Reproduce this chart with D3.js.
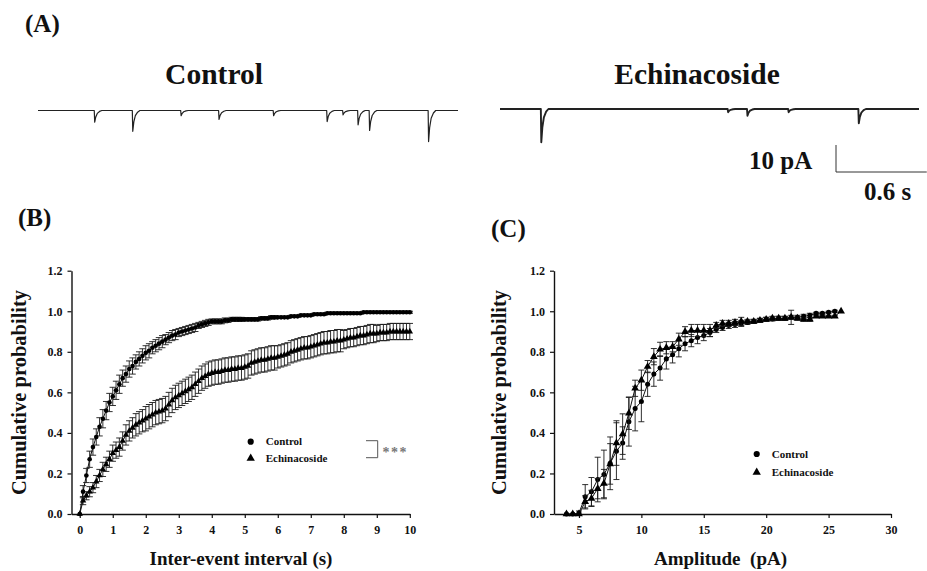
<!DOCTYPE html>
<html>
<head>
<meta charset="utf-8">
<script src="https://cdn.jsdelivr.net/npm/d3@7"></script>
<style>
  body { margin: 0; background: #fff; }
  svg { display: block; }
  text { font-family: "Liberation Serif", "Times New Roman", serif; font-weight: bold; fill: #111; }
</style>
</head>
<body>
<div id="fig"></div>
<script>
// ---------- data ----------
// (A) sample traces: event times (s) and amplitudes (pA)
var controlEventTimes = [0.371, 0.622, 0.941, 1.191, 1.551, 1.904, 2.009, 2.108, 2.184, 2.573];
var controlEventAmps  = [4.3, 7.7, 1.9, 3.3, 1.9, 4.1, 1.6, 5.3, 7.4, 11.5];
var echinaEventTimes  = [0.270, 1.505, 1.633, 1.905, 2.369];
var echinaEventAmps   = [12.3, 1.2, 2.5, 1.2, 5.3];

// (B) inter-event interval cumulative probability
var ieiTimes = [0,0.1,0.2,0.3,0.4,0.5,0.6,0.7,0.8,0.9,
  1,1.1,1.2,1.3,1.4,1.5,1.6,1.7,1.8,1.9,
  2,2.1,2.2,2.3,2.4,2.5,2.6,2.7,2.8,2.9,
  3,3.1,3.2,3.3,3.4,3.5,3.6,3.7,3.8,3.9,
  4,4.1,4.2,4.3,4.4,4.5,4.6,4.7,4.8,4.9,
  5,5.1,5.2,5.3,5.4,5.5,5.6,5.7,5.8,5.9,
  6,6.1,6.2,6.3,6.4,6.5,6.6,6.7,6.8,6.9,
  7,7.1,7.2,7.3,7.4,7.5,7.6,7.7,7.8,7.9,
  8,8.1,8.2,8.3,8.4,8.5,8.6,8.7,8.8,8.9,
  9,9.1,9.2,9.3,9.4,9.5,9.6,9.7,9.8,9.9,10];
var ieiControl = [0,0.11,0.19,0.27,0.33,0.38,0.43,0.47,0.51,0.55,
  0.58,0.61,0.64,0.67,0.69,0.715,0.73,0.75,0.765,0.78,
  0.795,0.805,0.82,0.83,0.84,0.85,0.86,0.87,0.88,0.885,
  0.895,0.9,0.905,0.91,0.915,0.92,0.93,0.935,0.94,0.945,
  0.95,0.95,0.95,0.95,0.955,0.955,0.96,0.96,0.96,0.96,
  0.96,0.96,0.96,0.96,0.96,0.965,0.965,0.965,0.97,0.97,
  0.97,0.97,0.97,0.97,0.975,0.975,0.975,0.98,0.98,0.98,
  0.98,0.985,0.985,0.985,0.985,0.99,0.99,0.99,0.99,0.99,
  0.99,0.99,0.99,0.99,0.99,0.99,0.995,0.995,0.995,0.995,
  0.995,0.995,0.995,0.995,0.995,0.995,0.995,0.995,0.995,0.995,0.995];
var ieiControlErr = [0,0.03,0.035,0.04,0.04,0.04,0.045,0.045,0.045,0.045,
  0.045,0.045,0.045,0.04,0.04,0.04,0.04,0.035,0.035,0.035,
  0.035,0.035,0.03,0.03,0.03,0.03,0.025,0.025,0.025,0.025,
  0.02,0.02,0.02,0.02,0.02,0.02,0.015,0.015,0.015,0.015,
  0.012,0.012,0.012,0.012,0.012,0.01,0.01,0.01,0.01,0.01,
  0.008,0.008,0.008,0.008,0.008,0.008,0.008,0.008,0.008,0.008,
  0.005,0.005,0.005,0.005,0.005,0.005,0.005,0.005,0.005,0.005,
  0.005,0.005,0.005,0.005,0.005,0.005,0.005,0.005,0.005,0.005,
  0.005,0.005,0.005,0.005,0.005,0.005,0.005,0.005,0.005,0.005,
  0.005,0.005,0.005,0.005,0.005,0.005,0.005,0.005,0.005,0.005,0.005];
var ieiEchina = [0,0.066,0.09,0.11,0.13,0.16,0.19,0.22,0.245,0.27,
  0.3,0.315,0.33,0.36,0.39,0.41,0.425,0.44,0.45,0.46,
  0.47,0.48,0.49,0.5,0.505,0.51,0.52,0.54,0.56,0.575,
  0.585,0.595,0.605,0.615,0.625,0.64,0.655,0.67,0.68,0.69,
  0.695,0.7,0.7,0.705,0.71,0.71,0.715,0.715,0.72,0.72,
  0.725,0.73,0.745,0.75,0.755,0.76,0.76,0.765,0.77,0.77,
  0.775,0.78,0.785,0.79,0.8,0.805,0.81,0.815,0.82,0.82,
  0.825,0.83,0.835,0.84,0.845,0.845,0.85,0.85,0.855,0.855,
  0.86,0.865,0.87,0.87,0.875,0.88,0.88,0.885,0.89,0.89,
  0.89,0.895,0.895,0.895,0.9,0.9,0.9,0.9,0.9,0.9,0.9];
var ieiEchinaErr = [0,0.02,0.02,0.025,0.025,0.03,0.03,0.035,0.035,0.04,
  0.04,0.04,0.045,0.045,0.05,0.05,0.05,0.055,0.055,0.055,
  0.06,0.06,0.06,0.06,0.06,0.06,0.06,0.06,0.06,0.06,
  0.06,0.06,0.06,0.06,0.06,0.06,0.06,0.06,0.06,0.06,
  0.06,0.06,0.06,0.06,0.06,0.06,0.06,0.06,0.06,0.06,
  0.06,0.06,0.06,0.06,0.06,0.06,0.06,0.06,0.06,0.06,
  0.055,0.055,0.055,0.055,0.055,0.055,0.055,0.055,0.055,0.055,
  0.055,0.055,0.055,0.055,0.055,0.055,0.055,0.055,0.055,0.055,
  0.045,0.045,0.045,0.045,0.045,0.045,0.045,0.045,0.045,0.045,
  0.04,0.04,0.04,0.04,0.04,0.04,0.04,0.04,0.04,0.04,0.04];

// (C) amplitude cumulative probability
var ampControlBins = [4,4.5,5,5.5,6,6.5,7,7.5,8,8.5,
  9,9.5,10,10.5,11,11.5,12,12.5,13,13.5,
  14,14.5,15,15.5,16,16.5,17,17.5,18,18.5,
  19,19.5,20,20.5,21,21.5,22,22.5,23,23.5,
  24,24.5,25,25.5];
var ampControl = [0,0,0.005,0.085,0.11,0.17,0.195,0.25,0.31,0.35,
  0.455,0.52,0.555,0.64,0.69,0.72,0.765,0.785,0.815,0.84,
  0.855,0.87,0.88,0.895,0.91,0.92,0.93,0.935,0.94,0.945,
  0.95,0.955,0.96,0.962,0.965,0.965,0.97,0.97,0.975,0.98,
  0.99,0.99,0.995,1.0];
var ampControlErr = [0,0,0.01,0.06,0.07,0.11,0.12,0.13,0.14,0.08,
  0.12,0.11,0.1,0.06,0.06,0.06,0.05,0.04,0.04,0.035,
  0.03,0.03,0.025,0.02,0.015,0.015,0.015,0.015,0.015,0.01,
  0.01,0.01,0.01,0.01,0.01,0.01,0.01,0.01,0.01,0.01,
  0.005,0.005,0.005,0.005];
var ampEchinaBins = [4,4.5,5,5.5,6,6.5,7,7.5,8,8.5,
  9,9.5,10,10.5,11,11.5,12,12.5,13,13.5,
  14,14.5,15,15.5,16,16.5,17,17.5,18,18.5,
  19,19.5,20,20.5,21,21.5,22,22.5,23,23.5,
  24,24.5,25,25.5,26];
var ampEchina = [0,0,0,0.06,0.077,0.125,0.15,0.247,0.35,0.394,
  0.497,0.62,0.66,0.727,0.776,0.812,0.82,0.825,0.862,0.899,
  0.905,0.905,0.905,0.905,0.93,0.94,0.94,0.945,0.95,0.95,
  0.95,0.955,0.96,0.965,0.965,0.965,0.97,0.965,0.96,0.96,
  0.975,0.975,0.975,0.975,1.0];
var ampEchinaErr = [0,0,0,0.03,0.04,0.05,0.07,0.1,0.11,0.1,
  0.08,0.04,0.05,0.03,0.04,0.035,0.03,0.025,0.03,0.025,
  0.03,0.03,0.03,0.03,0.015,0.015,0.015,0.015,0.02,0.01,
  0.01,0.01,0.01,0.01,0.01,0.01,0.035,0.01,0.01,0.01,
  0.005,0.005,0.005,0.005,0];

var probTicks = [0, 0.2, 0.4, 0.6, 0.8, 1.0, 1.2];
var ieiTicks = [0,1,2,3,4,5,6,7,8,9,10];
var ampTicks = [5,10,15,20,25,30];

// ---------- svg ----------
var svg = d3.select("#fig").append("svg")
  .attr("width", 927)
  .attr("height", 571);

svg.append("rect").attr("width", 927).attr("height", 571).attr("fill", "#fff");

// panel letters
svg.append("text").attr("x", 25).attr("y", 32).attr("font-size", 25).text("(A)");
svg.append("text").attr("x", 18).attr("y", 226).attr("font-size", 25).text("(B)");
svg.append("text").attr("x", 491).attr("y", 237).attr("font-size", 25).text("(C)");

// ---------- (A) traces ----------
// event kinetics template: [time offset (s), fraction of peak]
var kinetics = [[0, 0], [0.003, 1], [0.01, 0.55], [0.02, 0.25], [0.035, 0.08], [0.05, 0]];

var aScale = d3.scaleLinear().domain([0, 10]).range([0, 27]);   // pA -> px

function tracePoints(times, amps, tEnd) {
  var pts = [[0, 0]];
  times.forEach(function(t, i) {
    kinetics.forEach(function(k) { pts.push([t + k[0], amps[i] * k[1]]); });
  });
  pts.push([tEnd, 0]);
  return pts;
}

function drawTrace(times, amps, x0, x1, base, width, title, titleX) {
  var tScale = d3.scaleLinear().domain([0, 2.77]).range([x0, x1]);
  var line = d3.line()
    .x(function(d) { return tScale(d[0]); })
    .y(function(d) { return base + aScale(d[1]); });
  svg.append("path")
    .datum(tracePoints(times, amps, 2.77))
    .attr("d", line)
    .attr("fill", "none")
    .attr("stroke", "#222")
    .attr("stroke-width", width)
    .attr("stroke-linejoin", "round");
  svg.append("text")
    .attr("x", titleX)
    .attr("y", 84)
    .attr("text-anchor", "middle")
    .attr("font-size", 29.5)
    .text(title);
  return tScale;
}

drawTrace(controlEventTimes, controlEventAmps, 38, 458, 110.5, 1.2, "Control", 214);
var tEch = drawTrace(echinaEventTimes, echinaEventAmps, 500, 919, 109, 1.9, "Echinacoside", 697);

// scale bar: 10 pA / 0.6 s
var barX = 836, barY = 172;
svg.append("path")
  .attr("d", "M" + barX + "," + (barY - aScale(10)) + "V" + barY + "H" + (barX + tEch(0.6) - tEch(0)))
  .attr("fill", "none")
  .attr("stroke", "#333")
  .attr("stroke-width", 1);
svg.append("text").attr("x", 749).attr("y", 169).attr("font-size", 25).text("10 pA");
svg.append("text").attr("x", 864).attr("y", 200).attr("font-size", 25).text("0.6 s");

// ---------- cumulative plots ----------
var yProb = d3.scaleLinear().domain([0, 1.2]).range([514, 270.7]);

function drawAxes(x, ticks, axisX, title, titleX, ylabX) {
  var g = svg.append("g");
  g.append("g")
    .attr("transform", "translate(0," + yProb(0) + ")")
    .call(d3.axisBottom(x).tickValues(ticks).tickSize(4).tickSizeOuter(0).tickPadding(7).tickFormat(d3.format("d")));
  g.append("g")
    .attr("transform", "translate(" + axisX + ",0)")
    .call(d3.axisLeft(yProb).tickValues(probTicks).tickSize(4).tickSizeOuter(0).tickPadding(5).tickFormat(d3.format(".1f")));
  g.selectAll(".domain").attr("stroke", "#111").attr("stroke-width", 1.4);
  g.selectAll(".tick line").attr("stroke", "#111").attr("stroke-width", 1.2);
  g.selectAll(".tick text")
    .attr("font-family", "Liberation Serif, serif")
    .attr("font-weight", "bold")
    .attr("font-size", 12)
    .attr("fill", "#222");

  svg.append("text")
    .attr("x", titleX).attr("y", 565)
    .attr("text-anchor", "middle")
    .attr("font-size", 19)
    .attr("xml:space", "preserve")
    .style("white-space", "pre")
    .text(title);
  svg.append("text")
    .attr("transform", "translate(" + ylabX + ",392.5) rotate(-90)")
    .attr("text-anchor", "middle")
    .attr("font-size", 20.5)
    .text("Cumulative probability");
}

function drawSeries(x, xs, ys, errs, shape, size, cap) {
  var g = svg.append("g");
  var pts = xs.map(function(d, i) { return { x: d, y: ys[i], e: errs[i] }; });

  // error bars
  g.selectAll(".eb").data(pts.filter(function(d) { return d.e > 0; })).enter().append("path")
    .attr("d", function(d) {
      var px = x(d.x), lo = yProb(d.y - d.e), hi = yProb(d.y + d.e);
      return "M" + px + "," + lo + "V" + hi +
        "M" + (px - cap) + "," + hi + "H" + (px + cap) +
        "M" + (px - cap) + "," + lo + "H" + (px + cap);
    })
    .attr("fill", "none")
    .attr("stroke", "#1a1a1a")
    .attr("stroke-width", 0.9);

  // connecting line
  g.append("path")
    .datum(pts)
    .attr("d", d3.line().x(function(d) { return x(d.x); }).y(function(d) { return yProb(d.y); }))
    .attr("fill", "none")
    .attr("stroke", "#111")
    .attr("stroke-width", 1);

  // markers
  g.selectAll(".mk").data(pts).enter().append("path")
    .attr("transform", function(d) { return "translate(" + x(d.x) + "," + yProb(d.y) + ")"; })
    .attr("d", d3.symbol().type(shape).size(size))
    .attr("fill", "#000");
}

function drawLegend(cx, cy, gap) {
  svg.append("path")
    .attr("transform", "translate(" + cx + "," + cy + ")")
    .attr("d", d3.symbol().type(d3.symbolCircle).size(30))
    .attr("fill", "#000");
  svg.append("path")
    .attr("transform", "translate(" + cx + "," + (cy + gap) + ")")
    .attr("d", d3.symbol().type(d3.symbolTriangle).size(30))
    .attr("fill", "#000");
  svg.append("text").attr("x", cx + 15).attr("y", cy + 3.5).attr("font-size", 11).text("Control");
  svg.append("text").attr("x", cx + 15).attr("y", cy + gap + 4).attr("font-size", 11).text("Echinacoside");
}

// (B)
var xIei = d3.scaleLinear().domain([-0.25, 10]).range([71.5, 409.8]);
drawAxes(xIei, ieiTicks, 71.5, "Inter-event interval (s)", 241, 25.5);
drawSeries(xIei, ieiTimes, ieiEchina, ieiEchinaErr, d3.symbolTriangle, 18, 3.2);
drawSeries(xIei, ieiTimes, ieiControl, ieiControlErr, d3.symbolCircle, 17, 3.2);
drawLegend(250.7, 441.7, 16.6);

// significance bracket
svg.append("path")
  .attr("d", "M366,440.7H377.7V457.7H366")
  .attr("fill", "none")
  .attr("stroke", "#555")
  .attr("stroke-width", 1);
svg.append("text")
  .attr("x", 382.5).attr("y", 456.5)
  .attr("font-size", 14)
  .attr("letter-spacing", 1.5)
  .style("fill", "#777")
  .text("***");

// (C)
var xAmp = d3.scaleLinear().domain([3, 30]).range([554, 891]);
drawAxes(xAmp, ampTicks, 554, "Amplitude  (pA)", 720.5, 506);
drawSeries(xAmp, ampControlBins, ampControl, ampControlErr, d3.symbolCircle, 20, 3);
drawSeries(xAmp, ampEchinaBins, ampEchina, ampEchinaErr, d3.symbolTriangle, 26, 3);
drawLegend(756.7, 454, 18.3);
</script>
</body>
</html>
